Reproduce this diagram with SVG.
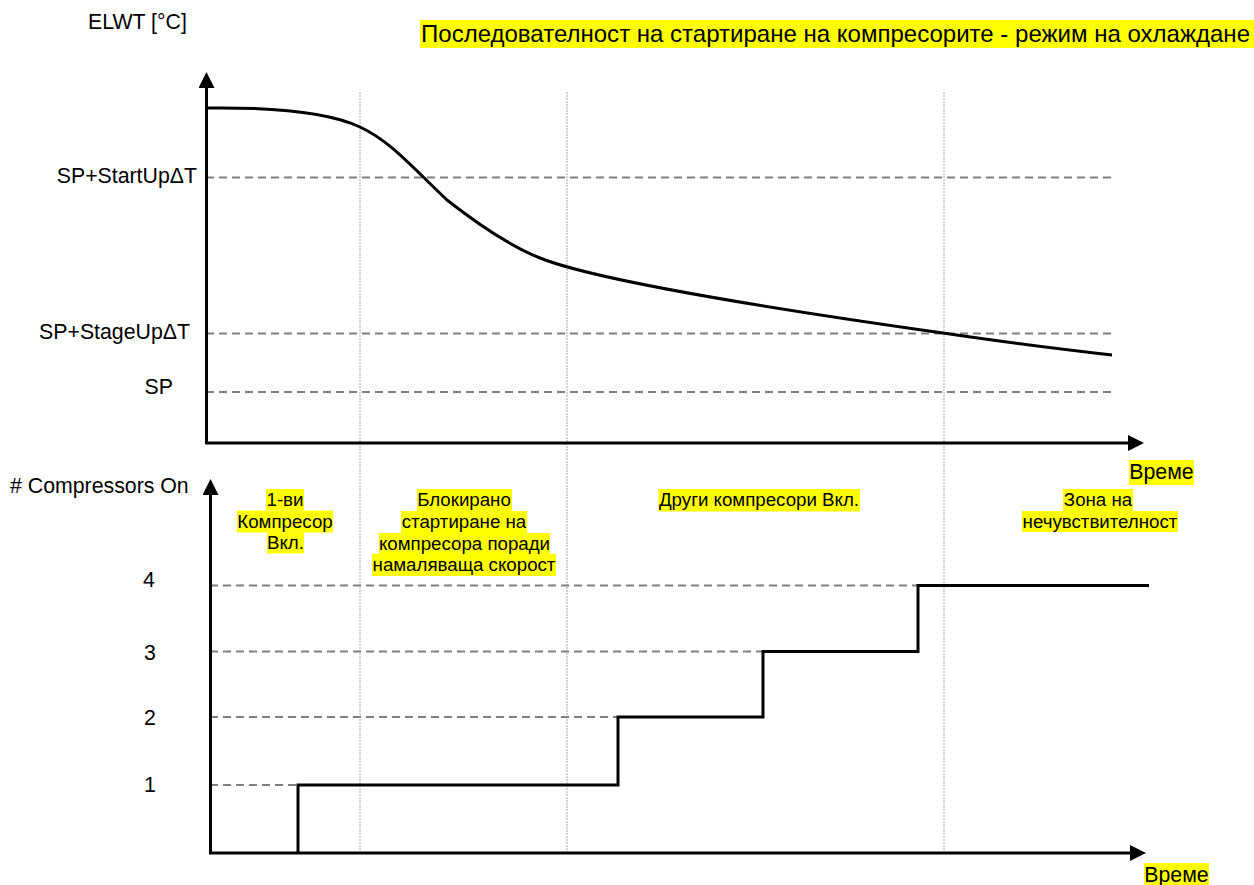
<svg xmlns="http://www.w3.org/2000/svg" width="1254" height="885" viewBox="0 0 1254 885">
<style>
text{font-family:"Liberation Sans",Arial,sans-serif;fill:#000}
.lbl{font-size:21.3px}
.ann{font-size:18.7px;text-anchor:middle}
.hl{fill:#ffff00}
.axis{stroke:#000;stroke-width:3;fill:none}
.dash{stroke:#808080;stroke-width:2;stroke-dasharray:8 5;fill:none}
.dot{stroke:#a6a6a6;stroke-width:1;stroke-dasharray:2 1;fill:none}
.trace{stroke:#000;stroke-width:3;fill:none;stroke-linejoin:miter}
</style>
<defs>
<marker id="arr" viewBox="0 0 16 16" markerUnits="userSpaceOnUse" markerWidth="16" markerHeight="16" refX="0" refY="8" orient="auto">
<path d="M0,0 L16,8 L0,16 z" fill="#000"/>
</marker>
</defs>
<rect width="1254" height="885" fill="#fff"/>

<g id="guides">
<line class="dot" x1="360" y1="92" x2="360" y2="853"/>
<line class="dot" x1="567" y1="92" x2="567" y2="853"/>
<line class="dot" x1="944" y1="92" x2="944" y2="853"/>
<line class="dash" x1="206" y1="177.5" x2="1112" y2="177.5"/>
<line class="dash" x1="206" y1="333.5" x2="1112" y2="333.5"/>
<line class="dash" x1="206" y1="392" x2="1112" y2="392"/>
<line class="dash" x1="210" y1="585.5" x2="918" y2="585.5"/>
<line class="dash" x1="210" y1="651.5" x2="763" y2="651.5"/>
<line class="dash" x1="210" y1="717" x2="618" y2="717"/>
<line class="dash" x1="210" y1="785" x2="298" y2="785"/>
</g>

<g id="axes">
<line class="axis" x1="206.5" y1="444" x2="206.5" y2="88" marker-end="url(#arr)"/>
<line class="axis" x1="205" y1="443" x2="1128" y2="443" marker-end="url(#arr)"/>
<line class="axis" x1="210.5" y1="854" x2="210.5" y2="495" marker-end="url(#arr)"/>
<line class="axis" x1="209" y1="853" x2="1130" y2="853" marker-end="url(#arr)"/>
</g>

<g id="elwt-curve">
<path class="trace" d="M206,108 C280,107 330,113 360,127 C390,141 410,165 447,200 C475,222 510,246 540,258 C600,282 780,310 943,333 C1010,343 1060,349 1112,355"/>
</g>

<g id="compressor-steps">
<path class="trace" d="M298,853 V785 H618 V717 H763 V651.5 H918 V585.5 H1149"/>
</g>

<g id="title">
<rect class="hl" x="420" y="20" width="834" height="28"/>
<text x="421" y="42" font-size="24" textLength="829" lengthAdjust="spacingAndGlyphs">Последователност на стартиране на компресорите - режим на охлаждане</text>
</g>

<g id="y-labels">
<text class="lbl" x="88" y="29">ELWT [°C]</text>
<text class="lbl" x="197" y="183" text-anchor="end">SP+StartUpΔT</text>
<text class="lbl" x="190" y="339" text-anchor="end">SP+StageUpΔT</text>
<text class="lbl" x="173" y="394" text-anchor="end">SP</text>
<text class="lbl" x="10" y="493"># Compressors On</text>
<text class="lbl" x="149" y="587" text-anchor="middle">4</text>
<text class="lbl" x="150" y="660" text-anchor="middle">3</text>
<text class="lbl" x="150" y="725" text-anchor="middle">2</text>
<text class="lbl" x="150" y="792" text-anchor="middle">1</text>
</g>

<g id="time-label-top">
<rect class="hl" x="1129" y="460" width="65" height="25"/>
<text class="lbl" x="1161.5" y="479" text-anchor="middle">Време</text>
</g>
<g id="time-label-bottom">
<rect class="hl" x="1144" y="863" width="65" height="25"/>
<text class="lbl" x="1176.5" y="882" text-anchor="middle">Време</text>
</g>

<g id="zone-first">
<rect class="hl" x="266" y="489" width="38" height="21.5"/>
<rect class="hl" x="237" y="510.5" width="96" height="22"/>
<rect class="hl" x="267" y="532.5" width="37" height="21"/>
<text class="ann" x="285" y="506">1-ви</text>
<text class="ann" x="285" y="528">Компресор</text>
<text class="ann" x="285.5" y="549">Вкл.</text>
</g>

<g id="zone-blocked">
<rect class="hl" x="417" y="489" width="95" height="22"/>
<rect class="hl" x="401" y="511" width="126" height="22"/>
<rect class="hl" x="379" y="533" width="171" height="21"/>
<rect class="hl" x="372" y="554" width="184" height="22"/>
<text class="ann" x="464" y="506">Блокирано</text>
<text class="ann" x="464" y="528">стартиране на</text>
<text class="ann" x="464.5" y="549.5">компресора поради</text>
<text class="ann" x="464" y="571">намаляваща скорост</text>
</g>

<g id="zone-others">
<rect class="hl" x="658.5" y="489" width="201.5" height="22.5"/>
<text class="ann" x="759" y="506">Други компресори Вкл.</text>
</g>

<g id="zone-deadband">
<rect class="hl" x="1063" y="489" width="70" height="22"/>
<rect class="hl" x="1022" y="511" width="156" height="21"/>
<text class="ann" x="1098" y="506">Зона на</text>
<text class="ann" x="1100" y="527.5">нечувствителност</text>
</g>
</svg>
